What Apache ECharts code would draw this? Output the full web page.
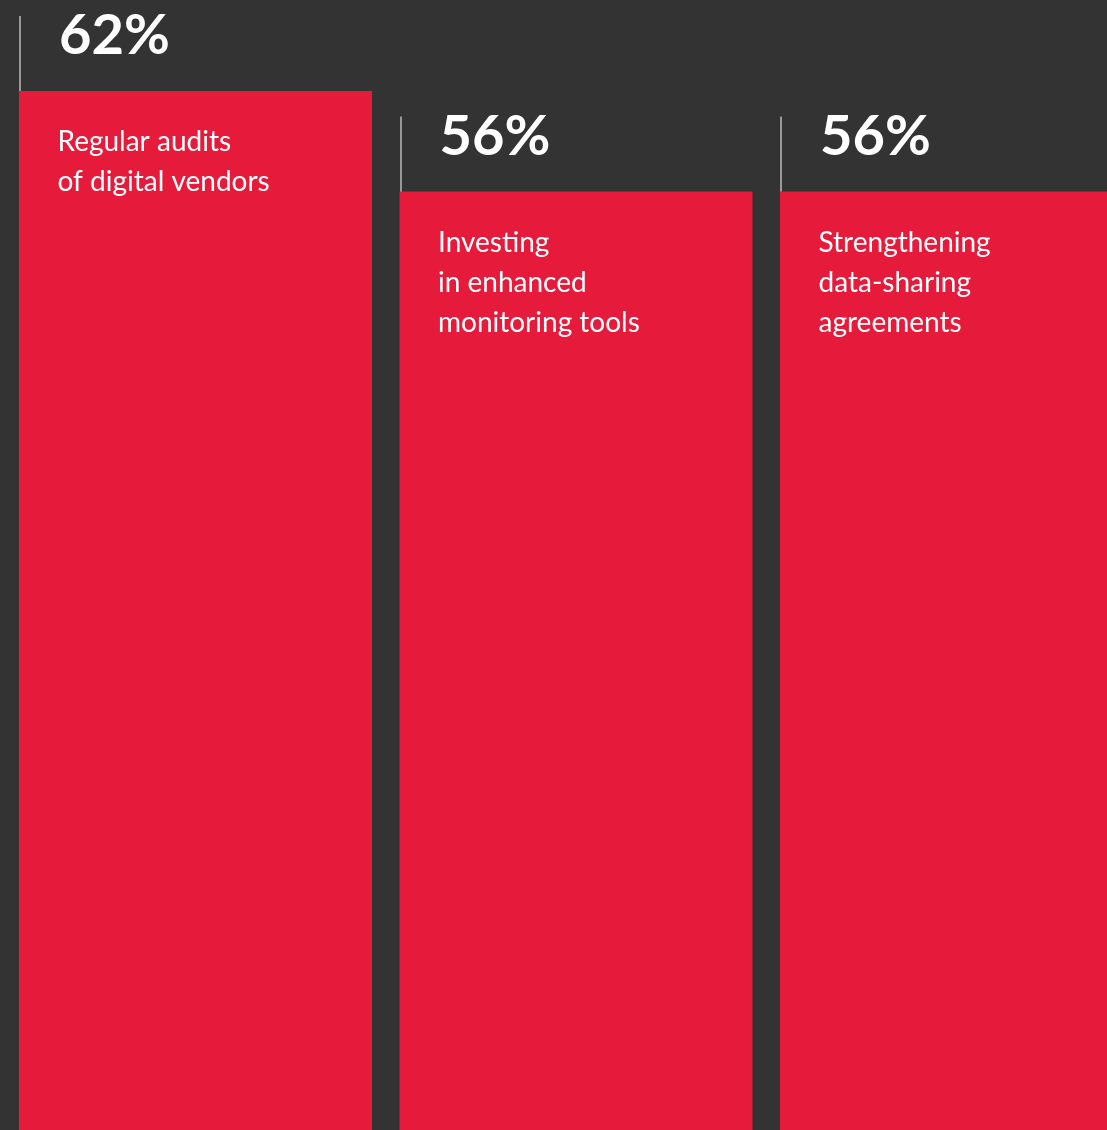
<!DOCTYPE html>
<html>
<head>
<meta charset="utf-8">
<script src="https://cdn.jsdelivr.net/npm/echarts@6/dist/echarts.min.js"></script>
<style>
html,body{margin:0;padding:0;background:#333333;}
#chart{width:1107px;height:1130px;}
</style>
</head>
<body>
<div id="chart"></div>
<script>
var categories = ['Regular audits\nof digital vendors', 'Investing\nin enhanced\nmonitoring tools', 'Strengthening\ndata-sharing\nagreements'];
var positions = [0, 1, 2];
var values = [62, 56, 56];
var valueLabels = ['62%', '56%', '56%'];

var BAR_W = 353;
var chart = echarts.init(document.getElementById('chart'), null, {renderer: 'canvas'});
chart.setOption({
  backgroundColor: '#333333',
  animation: false,
  grid: {left: 0, right: 0, top: 0, bottom: 0},
  xAxis: {type: 'value', min: -0.5138, max: 2.3955, show: false, splitLine: {show: false}},
  yAxis: {type: 'value', min: 0, max: 67.43, show: false, splitLine: {show: false}},
  series: [
    {
      type: 'bar',
      data: positions.map(function (p, i) { return [p, values[i]]; }),
      barWidth: BAR_W,
      itemStyle: {color: '#E61B3B'},
      silent: true,
      z: 2
    },
    {
      type: 'custom',
      clip: false,
      silent: true,
      z: 10,
      data: positions.map(function (p, i) { return [p, values[i], i]; }),
      renderItem: function (params, api) {
        var idx = api.value(2);
        var p = api.coord([api.value(0), api.value(1)]);
        var left = p[0] - BAR_W / 2;
        var top = p[1];
        var lx = Math.round(left) + 1;
        return {
          type: 'group',
          children: [
            {type: 'line', shape: {x1: lx, y1: top, x2: lx, y2: top - 75},
             style: {stroke: '#ffffff', lineWidth: 1}},
            {type: 'text', x: left + 40, y: top - 55,
             style: {text: valueLabels[idx], fill: '#ffffff', fontFamily: 'Lato', fontWeight: 700, fontSize: 56, align: 'left', verticalAlign: 'middle'}},
            {type: 'text', x: left + 38.5, y: top + 31,
             style: {text: categories[idx], fill: '#ffffff', fontFamily: 'Lato', fontSize: 28, fontWeight: 400, lineHeight: 40, align: 'left', verticalAlign: 'top'}}
          ]
        };
      }
    }
  ]
});
</script>
</body>
</html>
